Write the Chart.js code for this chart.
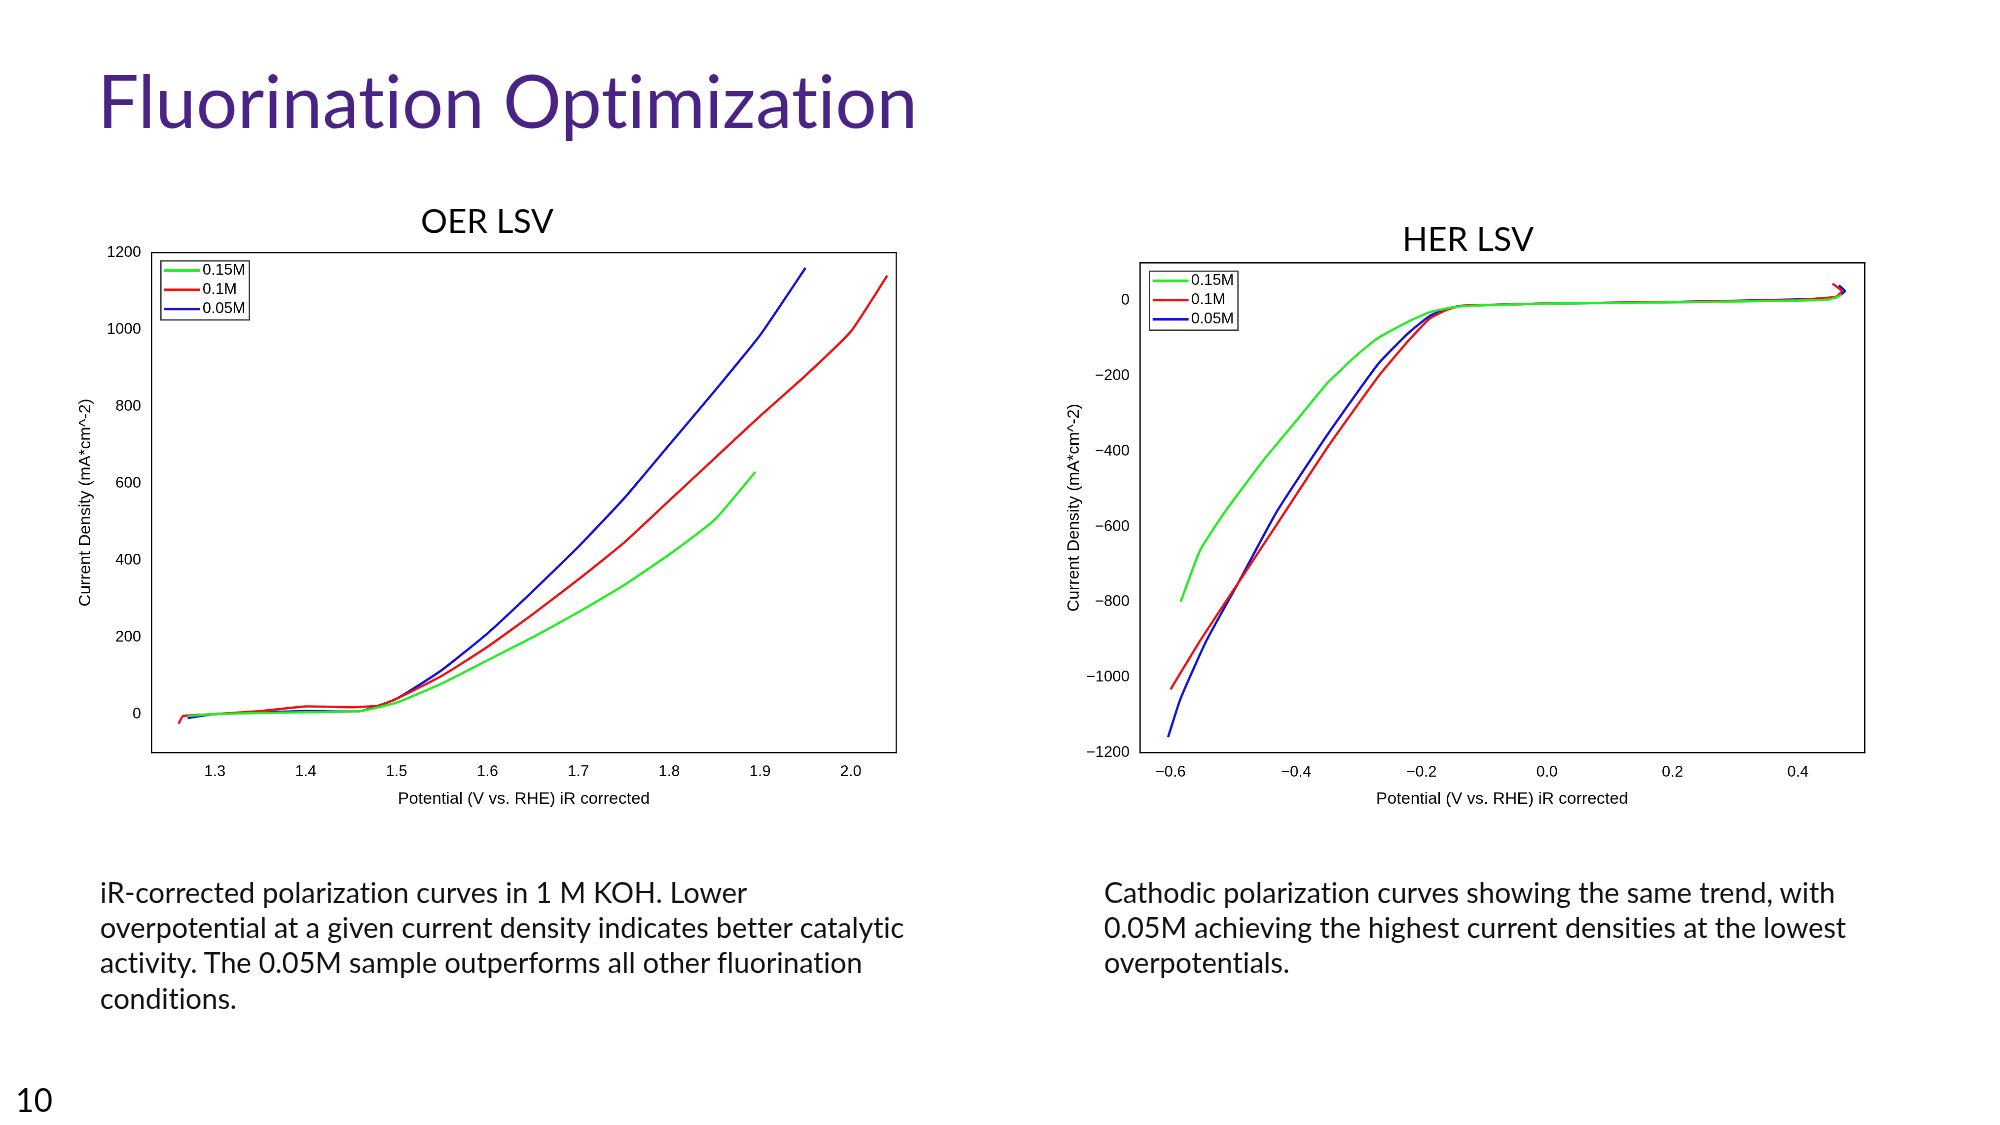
<!DOCTYPE html>
<html>
<head>
<meta charset="utf-8">
<script src="https://cdn.jsdelivr.net/npm/chart.js@4.4.1/dist/chart.umd.min.js"></script>
<style>
  html, body { margin: 0; padding: 0; background: #fff; overflow: hidden; }
  #page { position: absolute; left: 0; top: 0; width: 1560px; height: 878px; transform: scale(1.2821); transform-origin: 0 0; font-family: Lato, "Open Sans", sans-serif; font-variant-ligatures: none; }
  .abs { position: absolute; }
  h1 { position: absolute; left: 76px; top: 44px; margin: 0; font-weight: 400; font-size: 57px; color: #4a2485; }
  .ctitle { position: absolute; font-size: 26px; color: #000; transform: translateX(-50%); white-space: nowrap; }
  .cap { position: absolute; font-size: 22.3px; line-height: 27.5px; color: #111; width: 640px; }
  canvas { position: absolute; }
</style>
</head>
<body>
<div id="page">
  <h1>Fluorination Optimization</h1>
  <div class="ctitle" style="left:380px; top:156px;">OER LSV</div>
  <div class="ctitle" style="left:1145px; top:170px;">HER LSV</div>
  <canvas id="oer" style="left:55px; top:185px; width:652px; height:450px;"></canvas>
  <canvas id="her" style="left:826px; top:193px; width:636px; height:442px;"></canvas>
  <div class="cap" style="left:78px; top:682px;">iR-corrected polarization curves in 1 M KOH. Lower overpotential at a given current density indicates better catalytic activity. The 0.05M sample outperforms all other fluorination conditions.</div>
  <div class="cap" style="left:861px; top:682px; width:600px;">Cathodic polarization curves showing the same trend, with 0.05M achieving the highest current densities at the lowest overpotentials.</div>
  <div class="abs" style="left:12px; top:842px; font-size:25px;">10</div>
</div>
<script>
// Series labels and colours
var seriesNames = ['0.15M', '0.1M', '0.05M'];
var seriesColors = ['#22ee22', '#ee1111', '#1111dd'];

// OER LSV (potential V, current density mA/cm^2)
var oerX15 = [1.27, 1.30, 1.35, 1.40, 1.46, 1.50, 1.55, 1.60, 1.65, 1.70, 1.75, 1.80, 1.85, 1.895];
var oerY15 = [-5, 0, 3, 5, 8, 30, 80, 140, 200, 265, 335, 415, 505, 630];
var oerX10 = [1.26, 1.265, 1.30, 1.35, 1.40, 1.45, 1.48, 1.50, 1.55, 1.60, 1.65, 1.70, 1.75, 1.80, 1.85, 1.90, 1.95, 2.00, 2.04];
var oerY10 = [-25, -5, 0, 8, 20, 18, 22, 40, 100, 175, 260, 350, 445, 555, 665, 775, 880, 995, 1140];
var oerX05 = [1.27, 1.30, 1.35, 1.40, 1.46, 1.50, 1.55, 1.60, 1.65, 1.70, 1.75, 1.80, 1.85, 1.90, 1.95];
var oerY05 = [-10, 0, 4, 8, 8, 40, 115, 210, 320, 435, 560, 700, 840, 985, 1160];
var oerXTicks = [1.3, 1.4, 1.5, 1.6, 1.7, 1.8, 1.9, 2.0];
var oerYTicks = [0, 200, 400, 600, 800, 1000, 1200];

// HER LSV
var herX15 = [-0.584, -0.553, -0.513, -0.452, -0.40, -0.35, -0.30, -0.269, -0.22, -0.187, -0.15, -0.126, -0.05, 0.0, 0.2, 0.4, 0.45, 0.47];
var herY15 = [-800, -663, -560, -424, -320, -219, -140, -99, -55, -31, -18, -14, -10, -8, -5, 0, 3, 15];
var herX10 = [-0.60, -0.553, -0.492, -0.431, -0.35, -0.269, -0.22, -0.187, -0.16, -0.137, -0.05, 0.0, 0.2, 0.4, 0.46, 0.47, 0.455];
var herY10 = [-1032, -903, -749, -595, -390, -202, -105, -48, -25, -14, -10, -8, -4, 2, 10, 25, 45];
var herX05 = [-0.604, -0.584, -0.543, -0.492, -0.431, -0.35, -0.269, -0.22, -0.187, -0.16, -0.137, -0.05, 0.0, 0.2, 0.4, 0.46, 0.475, 0.465];
var herY05 = [-1159, -1056, -903, -749, -561, -356, -168, -85, -41, -22, -14, -10, -8, -4, 3, 8, 25, 40];
var herXTicks = [-0.6, -0.4, -0.2, 0.0, 0.2, 0.4];
var herYTicks = [-1200, -1000, -800, -600, -400, -200, 0];

function pts(xs, ys) {
  return xs.map(function (x, i) { return { x: x, y: ys[i] }; });
}

var tickFont = { family: '"Liberation Sans", Arial, sans-serif', size: 12 };
var titleFont = { family: '"Liberation Sans", Arial, sans-serif', size: 13 };

var insideLegend = {
  id: 'insideLegend',
  afterDraw: function (chart) {
    var ctx = chart.ctx, a = chart.chartArea;
    var x = a.left + 7, y = a.top + 6, w = 69, h = 46;
    ctx.save();
    ctx.fillStyle = '#fff';
    ctx.fillRect(x, y, w, h);
    ctx.strokeStyle = '#333';
    ctx.lineWidth = 1;
    ctx.strokeRect(x + 0.5, y + 0.5, w, h);
    ctx.font = '12px "Liberation Sans", Arial, sans-serif';
    ctx.textBaseline = 'middle';
    chart.data.datasets.forEach(function (d, i) {
      var ly = y + 8 + i * 15;
      ctx.strokeStyle = d.borderColor;
      ctx.lineWidth = 2;
      ctx.beginPath(); ctx.moveTo(x + 3, ly); ctx.lineTo(x + 31, ly); ctx.stroke();
      ctx.fillStyle = '#000';
      ctx.fillText(d.label, x + 33, ly);
    });
    ctx.restore();
  }
};

function makeChart(id, data, xr, yr, xTicks, yTicks, xDigits) {
  var ds = data.map(function (p, i) {
    return { label: seriesNames[i], data: p, borderColor: seriesColors[i], backgroundColor: seriesColors[i],
             borderWidth: 1.8, pointRadius: 0, showLine: true, tension: 0.15, fill: false };
  });
  var axisCommon = {
    type: 'linear',
    grid: { display: false, drawTicks: true, tickLength: 5, tickColor: '#000' },
    border: { display: true, color: '#000', width: 1 },
    ticks: { color: '#000', font: tickFont, autoSkip: false }
  };
  return new Chart(document.getElementById(id), {
    type: 'scatter',
    data: { datasets: ds },
    options: {
      responsive: false,
      devicePixelRatio: 2.6,
      animation: false,
      layout: { padding: { top: 12, right: 8, left: 0, bottom: 0 } },
      plugins: { legend: { display: false }, tooltip: { enabled: false } },
      scales: {
        x: Object.assign({}, axisCommon, {
          min: xr[0], max: xr[1],
          afterBuildTicks: function (s) { s.ticks = xTicks.map(function (v) { return { value: v }; }); },
          afterFit: function (s) { s.height = 48; },
          ticks: Object.assign({}, axisCommon.ticks, { callback: function (v) { return v.toFixed(xDigits).replace('-', '\u2212'); } }),
          title: { display: true, text: 'Potential (V vs. RHE) iR corrected', color: '#000', font: titleFont, padding: { top: 4 } }
        }),
        x2: { type: 'linear', position: 'top', min: xr[0], max: xr[1], grid: { display: false, drawTicks: false }, border: { display: true, color: '#000' }, ticks: { display: false }, afterFit: function (s) { s.height = 0; } },
        y: Object.assign({}, axisCommon, {
          min: yr[0], max: yr[1],
          afterBuildTicks: function (s) { s.ticks = yTicks.map(function (v) { return { value: v }; }); },
          afterFit: function (s) { s.width = 63; },
          ticks: Object.assign({}, axisCommon.ticks, { callback: function (v) { return String(v).replace('-', '\u2212'); } }),
          title: { display: true, text: 'Current Density (mA*cm^-2)', color: '#000', font: titleFont, padding: { bottom: 2 } }
        }),
        y2: { type: 'linear', position: 'right', min: yr[0], max: yr[1], grid: { display: false, drawTicks: false }, border: { display: true, color: '#000' }, ticks: { display: false }, afterFit: function (s) { s.width = 0; } }
      }
    },
    plugins: [insideLegend]
  });
}

var oerCanvas = document.getElementById('oer'); oerCanvas.width = 652; oerCanvas.height = 450;
var herCanvas = document.getElementById('her'); herCanvas.width = 636; herCanvas.height = 442;

makeChart('oer', [pts(oerX15, oerY15), pts(oerX10, oerY10), pts(oerX05, oerY05)],
  [1.23, 2.05], [-100, 1200], oerXTicks, oerYTicks, 1);
makeChart('her', [pts(herX15, herY15), pts(herX10, herY10), pts(herX05, herY05)],
  [-0.649, 0.506], [-1200, 100], herXTicks, herYTicks, 1);
</script>
</body>
</html>
